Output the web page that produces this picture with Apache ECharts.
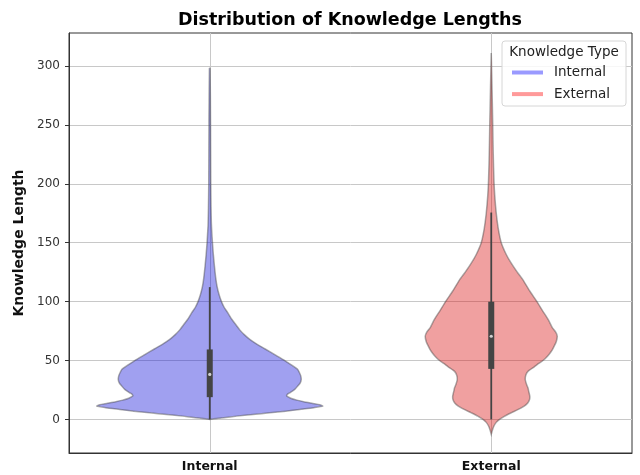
<!DOCTYPE html>
<html>
<head>
<meta charset="utf-8">
<script src="https://cdn.jsdelivr.net/npm/echarts@6/dist/echarts.min.js"></script>
<style>html,body{margin:0;padding:0;background:#fff}#c{width:640px;height:475px}</style>
</head>
<body>
<div id="c"></div>
<script>
// Categories and tick labels
const categories = ['Internal', 'External'];
const yTicks = [0, 50, 100, 150, 200, 250, 300];

// Violin profiles: value along y, half-width as a fraction of the category band
const internalValues = [0, 0.5, 1.5, 2.8, 4.2, 5.6, 7, 8.5, 10, 11.3, 12.5, 13.6, 15, 16.4, 18, 19.8, 21.2, 22.6, 25.5, 28.3, 31, 33.9, 37, 40, 42.4, 46, 50, 55, 60, 64, 68, 72, 76, 80, 85, 90.6, 95, 100, 106, 113, 120, 130, 140, 150, 165, 180, 200, 250, 298];
const internalHalfWidth = [0, 0.0142, 0.0497, 0.0959, 0.1528, 0.2131, 0.27, 0.3197, 0.3694, 0.4014, 0.3908, 0.3659, 0.3339, 0.3091, 0.2877, 0.2735, 0.2753, 0.2842, 0.302, 0.3126, 0.3215, 0.325, 0.3233, 0.3179, 0.3126, 0.2913, 0.2664, 0.2309, 0.1954, 0.167, 0.1421, 0.1226, 0.1066, 0.0941, 0.0782, 0.0639, 0.0515, 0.0416, 0.033, 0.0259, 0.0213, 0.0167, 0.0128, 0.0096, 0.006, 0.0046, 0.0036, 0.0028, 0.0012];

const externalValues = [-12.7, -9, -5.6, -2.5, 0, 2.8, 5.6, 8.5, 11.3, 14, 16.9, 19.5, 22, 24.5, 26.8, 30, 33.9, 37.5, 40.8, 44.6, 47.5, 50, 53, 56, 59, 62, 66, 70.6, 74, 78, 84.7, 92, 100, 109, 118.5, 125, 132.6, 140, 150, 162, 175, 190, 203, 225, 250, 280, 311];
const externalHalfWidth = [0, 0.0043, 0.0096, 0.0178, 0.0295, 0.048, 0.071, 0.0959, 0.1172, 0.1297, 0.1361, 0.1371, 0.135, 0.1325, 0.1304, 0.125, 0.1208, 0.1226, 0.1304, 0.1528, 0.1687, 0.1837, 0.1972, 0.2078, 0.2167, 0.2231, 0.2309, 0.2345, 0.2291, 0.2167, 0.2025, 0.1829, 0.1623, 0.1368, 0.1126, 0.0924, 0.071, 0.0533, 0.0355, 0.0249, 0.0178, 0.0124, 0.0096, 0.0071, 0.0053, 0.0028, 0];

// Box statistics: [whisker low, Q1, median, Q3, whisker high]
const internalBox = [0, 18.9, 38.2, 59.4, 112.3];
const externalBox = [0, 42.9, 70.6, 99.9, 175.6];

const chart = echarts.init(document.getElementById('c'), null, {renderer: 'canvas'});
const FONT = 'DejaVu Sans';

function violinRender(values, halfW, box, fill, stroke) {
  return function (params, api) {
    const cat = api.value(0);
    const band = api.size([1, 0])[0];
    const left = [], right = [];
    for (let i = 0; i < values.length; i++) {
      const p = api.coord([cat, values[i]]);
      left.push([p[0] - halfW[i] * band, p[1]]);
      right.push([p[0] + halfW[i] * band, p[1]]);
    }
    const pts = left.concat(right.reverse());
    const lo = api.coord([cat, box[0]]);
    const q1 = api.coord([cat, box[1]]);
    const med = api.coord([cat, box[2]]);
    const q3 = api.coord([cat, box[3]]);
    const hi = api.coord([cat, box[4]]);
    return {
      type: 'group',
      children: [
        {type: 'polygon', shape: {points: pts, smooth: 0.2},
         style: {fill: fill, stroke: stroke, lineWidth: 1.5}},
        {type: 'line', shape: {x1: lo[0], y1: lo[1], x2: hi[0], y2: hi[1]},
         style: {stroke: '#444', lineWidth: 1.8}},
        {type: 'rect', shape: {x: q3[0] - 3, y: q3[1], width: 6, height: q1[1] - q3[1]},
         style: {fill: '#444'}},
        {type: 'circle', shape: {cx: med[0], cy: med[1], r: 1.6},
         style: {fill: 'rgba(255,255,255,0.75)'}}
      ]
    };
  };
}

const option = {
  animation: false,
  backgroundColor: '#fff',
  textStyle: {fontFamily: FONT},
  grid: {left: 69, right: 8, top: 33, bottom: 22, show: true, borderColor: '#333', borderWidth: 1,
         containLabel: false, outerBoundsMode: 'none'},
  xAxis: {
    type: 'category',
    data: categories,
    axisLine: {onZero: false, lineStyle: {color: '#333', width: 1}},
    axisTick: {alignWithLabel: true, length: 4, lineStyle: {color: '#333'}},
    axisLabel: {fontFamily: FONT, fontSize: 12.5, fontWeight: 'bold', color: '#111', margin: 7},
    splitLine: {show: true, alignWithLabel: true, lineStyle: {color: '#c8c8c8', width: 1}}
  },
  yAxis: {
    type: 'value',
    min: -28.5,
    max: 328,
    name: 'Knowledge Length',
    nameLocation: 'middle',
    nameGap: 39,
    nameTextStyle: {fontFamily: FONT, fontSize: 14, fontWeight: 'bold', color: '#111'},
    axisLine: {show: true, lineStyle: {color: '#333', width: 1}},
    axisTick: {show: true, length: 4, customValues: yTicks, lineStyle: {color: '#333'}},
    axisLabel: {customValues: yTicks, fontFamily: FONT, fontSize: 12, color: '#333', margin: 9},
    splitLine: {show: true, lineStyle: {color: '#c8c8c8', width: 1}}
  },
  legend: {
    data: categories,
    orient: 'vertical',
    left: 507,
    top: 60.5,
    icon: 'rect',
    itemWidth: 31,
    itemHeight: 4,
    itemGap: 7.6,
    textStyle: {fontFamily: FONT, fontSize: 13.5, color: '#222', lineHeight: 14, padding: [0, 0, 0, 6]},
    z: 10
  },
  graphic: [
    {type: 'text', x: 350, y: 20,
     style: {text: 'Distribution of Knowledge Lengths', font: 'bold 17.5px "DejaVu Sans"', fill: '#000',
             align: 'center', verticalAlign: 'middle'}},
    {type: 'rect', z: 5, shape: {x: 502, y: 41, width: 124, height: 65, r: 3},
     style: {fill: 'rgba(255,255,255,0.85)', stroke: '#d6d6d6', lineWidth: 1}},
    {type: 'text', z: 6, x: 564, y: 52,
     style: {text: 'Knowledge Type', font: '13.5px "DejaVu Sans"', fill: '#222',
             align: 'center', verticalAlign: 'middle'}}
  ],
  series: [
    {name: 'Internal', type: 'custom', data: [[0, internalBox[2]]], encode: {x: 0, y: 1},
     itemStyle: {color: '#9a9aff'},
     renderItem: violinRender(internalValues, internalHalfWidth, internalBox, 'rgba(18,18,218,0.4)', 'rgba(70,70,70,0.45)')},
    {name: 'External', type: 'custom', data: [[1, externalBox[2]]], encode: {x: 0, y: 1},
     itemStyle: {color: '#ff9a9a'},
     renderItem: violinRender(externalValues, externalHalfWidth, externalBox, 'rgba(218,18,18,0.4)', 'rgba(70,70,70,0.45)')}
  ]
};
chart.setOption(option);
</script>
</body>
</html>
